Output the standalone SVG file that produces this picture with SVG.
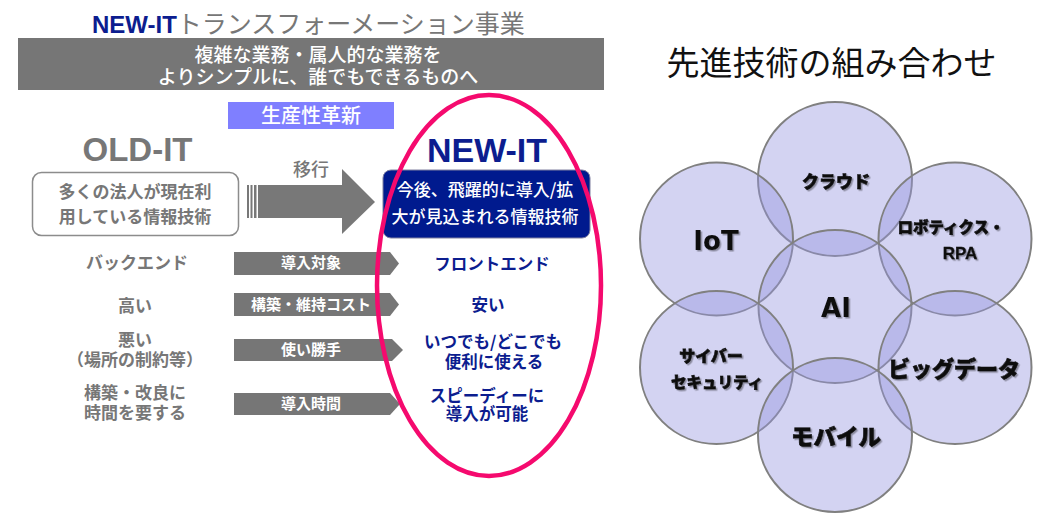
<svg xmlns="http://www.w3.org/2000/svg" width="1058" height="530" viewBox="0 0 1058 530">
<defs>
<style>
.jp{font-family:'Noto Sans CJK JP','Noto Sans',sans-serif}
.lat{font-family:'Liberation Sans','Noto Sans CJK JP',sans-serif}
.gray{fill:#777777}
.navy{fill:#0c1d8f}
.wt{fill:#ffffff}
.b{font-weight:700}
.m{font-weight:500}
.mid{text-anchor:middle}
.arr{fill:#767676}
.circ{fill:rgb(150,150,225);fill-opacity:0.42;stroke:#808080;stroke-width:2}
.cl{font-family:'Noto Sans CJK JP',sans-serif;font-weight:900;fill:#111111;stroke:#111111;stroke-width:0.6;text-anchor:middle;filter:url(#sh)}
.cv{font-family:'DejaVu Sans',sans-serif;font-weight:700;fill:#111111;text-anchor:middle;filter:url(#sh)}
</style>
<filter id="sh" x="-20%" y="-30%" width="140%" height="160%">
<feDropShadow dx="1.5" dy="1.5" stdDeviation="0.7" flood-color="#000000" flood-opacity="0.35"/>
</filter>
</defs>
<rect width="1058" height="530" fill="#ffffff"/>

<g id="title">
<text x="92" y="33"><tspan class="lat b navy" font-size="24">NEW-IT</tspan><tspan class="jp gray" font-size="25">トランスフォーメーション事業</tspan></text>
</g>

<g id="banner">
<rect x="18" y="38" width="586" height="52" fill="#767676"/>
<text class="jp m wt mid" font-size="19" x="318" y="62">複雑な業務・属人的な業務を</text>
<text class="jp m wt mid" font-size="19" x="318" y="84">よりシンプルに、誰でもできるものへ</text>
</g>

<g id="productivity">
<rect x="228" y="102" width="166" height="27" fill="#7f7fff"/>
<text class="jp m wt mid" font-size="20" x="311" y="123">生産性革新</text>
</g>

<g id="old-it">
<text class="lat b gray mid" font-size="33" x="137.5" y="161">OLD-IT</text>
<rect x="32.5" y="172.5" width="206" height="63" rx="9" fill="#ffffff" stroke="#8c8c8c" stroke-width="1.5"/>
<text class="jp b gray mid" font-size="17" x="135" y="198">多くの法人が現在利</text>
<text class="jp b gray mid" font-size="17" x="135" y="223">用している情報技術</text>
</g>

<g id="connectors">
<text class="jp m gray mid" font-size="18" x="311" y="176">移行</text>
<rect x="247" y="185" width="2" height="33" fill="#787878"/>
<rect x="250.5" y="185" width="2" height="33" fill="#787878"/>
<rect x="254" y="185" width="2.5" height="33" fill="#787878"/>
<polygon points="258,185 342,185 342,169 375,202 342,234 342,218 258,218" fill="#787878"/>
</g>

<g id="new-it">
<text class="lat b navy mid" font-size="34" x="487" y="162">NEW-IT</text>
<rect x="383" y="170" width="207" height="68" rx="8" fill="#001a8e" stroke="#8080a0" stroke-width="1"/>
<text class="jp m wt mid" font-size="17" x="485" y="196">今後、飛躍的に導入/拡</text>
<text class="jp m wt mid" font-size="17" x="485" y="223">大が見込まれる情報技術</text>
</g>

<g id="row1">
<text class="jp b gray mid" font-size="17" x="137" y="269">バックエンド</text>
<polygon class="arr" points="234,252 390,252 399,263.5 390,275 234,275"/>
<text class="jp b wt mid" font-size="15" x="311" y="268">導入対象</text>
<text class="jp b navy mid" font-size="16.5" x="492" y="270">フロントエンド</text>
</g>

<g id="row2">
<text class="jp b gray mid" font-size="17" x="135" y="312">高い</text>
<polygon class="arr" points="234,293 390,293 399,304.5 390,316 234,316"/>
<text class="jp b wt mid" font-size="15" x="311" y="310">構築・維持コスト</text>
<text class="jp b navy mid" font-size="16.5" x="488" y="311">安い</text>
</g>

<g id="row3">
<text class="jp b gray mid" font-size="17" x="135" y="346">悪い</text>
<text class="jp b gray mid" font-size="17" x="135" y="366">（場所の制約等）</text>
<polygon class="arr" points="234,339 392,339 403,350 392,361 234,361"/>
<text class="jp b wt mid" font-size="15" x="311" y="355">使い勝手</text>
<text class="jp b navy mid" font-size="16.5" x="493" y="348">いつでも/どこでも</text>
<text class="jp b navy mid" font-size="16.5" x="494" y="368">便利に使える</text>
</g>

<g id="row4">
<text class="jp b gray mid" font-size="17" x="135" y="399">構築・改良に</text>
<text class="jp b gray mid" font-size="17" x="135" y="419">時間を要する</text>
<polygon class="arr" points="234,393 390,393 400,404 390,415 234,415"/>
<text class="jp b wt mid" font-size="15" x="311" y="409">導入時間</text>
<text class="jp b navy mid" font-size="16.5" x="487" y="402">スピーディーに</text>
<text class="jp b navy mid" font-size="16.5" x="487" y="420">導入が可能</text>
</g>

<g id="new-it-ellipse">
<ellipse cx="489" cy="285.5" rx="112" ry="190.5" fill="none" stroke="#f50a6e" stroke-width="4.5"/>
</g>

<g id="tech-title">
<text class="jp" font-size="33" fill="#111111" text-anchor="middle" x="831.5" y="75">先進技術の組み合わせ</text>
</g>

<g id="cloud"><circle class="circ" cx="835" cy="179" r="77"/></g>
<g id="iot"><circle class="circ" cx="716.5" cy="239" r="76.5"/></g>
<g id="robotics"><circle class="circ" cx="955" cy="239" r="76.5"/></g>
<g id="ai"><circle class="circ" cx="835" cy="306.5" r="76.5"/></g>
<g id="cyber"><circle class="circ" cx="716.5" cy="367.5" r="76.5"/></g>
<g id="bigdata"><circle class="circ" cx="955" cy="367.5" r="76.5"/></g>
<g id="mobile"><circle class="circ" cx="835" cy="435" r="77"/></g>

<g id="circle-labels">
<text class="cl" font-size="17" x="836" y="188">クラウド</text>
<text class="cv" font-size="26" x="716" y="250">IoT</text>
<text class="cl" font-size="15.5" x="951" y="233">ロボティクス・</text>
<text class="cl" font-size="17" x="960" y="259" style="font-family:'Liberation Sans',sans-serif;font-weight:700;stroke-width:0.3">RPA</text>
<text class="cv" font-size="26" x="836" y="317">AI</text>
<text class="cl" font-size="16" x="711" y="362">サイバー</text>
<text class="cl" font-size="15.5" x="717" y="388">セキュリティ</text>
<text class="cl" font-size="22" x="954" y="377">ビッグデータ</text>
<text class="cl" font-size="22.5" x="836" y="445">モバイル</text>
</g>
</svg>
